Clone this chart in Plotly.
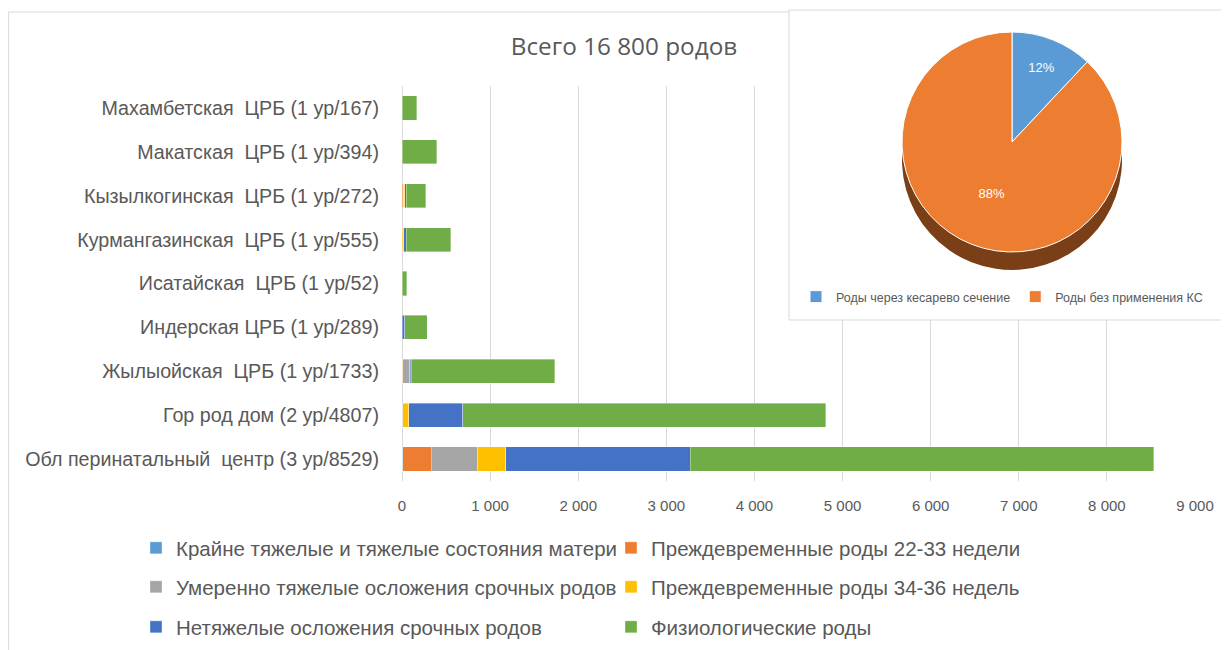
import plotly.graph_objects as go

# ---------------- data ----------------
categories = [
    "Махамбетская  ЦРБ (1 ур/167)",
    "Макатская  ЦРБ (1 ур/394)",
    "Кызылкогинская  ЦРБ (1 ур/272)",
    "Курмангазинская  ЦРБ (1 ур/555)",
    "Исатайская  ЦРБ (1 ур/52)",
    "Индерская ЦРБ (1 ур/289)",
    "Жылыойская  ЦРБ (1 ур/1733)",
    "Гор род дом (2 ур/4807)",
    "Обл перинатальный  центр (3 ур/8529)",
]
severe = [0, 0, 0, 0, 0, 0, 0, 0, 10]
preterm_22_33 = [0, 0, 12, 5, 0, 0, 10, 0, 320]
moderate = [0, 0, 10, 0, 0, 5, 75, 10, 530]
preterm_34_36 = [0, 0, 8, 15, 0, 0, 10, 65, 320]
mild = [0, 0, 20, 30, 0, 25, 10, 615, 2090]
physiological = [167, 394, 222, 505, 52, 259, 1628, 4117, 5259]

series_names = [
    "Крайне тяжелые и тяжелые состояния матери",
    "Преждевременные роды 22-33 недели",
    "Умеренно тяжелые осложения срочных родов",
    "Преждевременные роды 34-36 недель",
    "Нетяжелые осложения срочных родов",
    "Физиологические роды",
]
series_values = [severe, preterm_22_33, moderate, preterm_34_36, mild, physiological]
series_colors = ["#5B9BD5", "#ED7D31", "#A5A5A5", "#FFC000", "#4472C4", "#70AD47"]
series_legends = ["legend", "legend", "legend2", "legend2", "legend3", "legend3"]

pie_labels = ["Роды через кесарево сечение", "Роды без применения КС"]
pie_values = [12, 88]
pie_colors = ["#5B9BD5", "#ED7D31"]

title_text = "Всего 16 800 родов"
x_ticks = [0, 1000, 2000, 3000, 4000, 5000, 6000, 7000, 8000, 9000]
x_max = 9000

# ---------------- layout helpers (page has an 8px body margin) ----------------
OFF = 8
W, H = 1229 - OFF, 650 - OFF
GRAY = "#595959"
FONT = "Liberation Sans"


def px_x(p):
    return (p - OFF) / W


def px_y(p):
    return 1 - (p - OFF) / H


PLOT_L, PLOT_R, PLOT_T, PLOT_B = 402, 1195, 86, 481

fig = go.Figure()

for name, vals, col, lg in zip(series_names, series_values, series_colors, series_legends):
    fig.add_trace(go.Bar(
        y=categories, x=vals, name=name, orientation="h",
        marker=dict(color=col, line=dict(color="rgba(255,255,255,0.6)", width=0.6)),
        legend=lg,
    ))

pie_dom_x = [px_x(880), px_x(1144)]
# depth (side) of the pie
fig.add_trace(go.Pie(
    labels=pie_labels, values=pie_values, sort=False, direction="clockwise",
    marker=dict(colors=["#3f6f9a", "#7a3f16"]),
    textinfo="none", showlegend=False, hoverinfo="skip",
    domain=dict(x=pie_dom_x, y=[px_y(270), px_y(50)]),
))
fig.add_trace(go.Pie(
    labels=pie_labels, values=pie_values, sort=False, direction="clockwise",
    marker=dict(colors=pie_colors, line=dict(color="white", width=1)),
    textinfo="percent", textposition="inside",
    insidetextfont=dict(color="white", size=13, family=FONT),
    legend="legend4",
    domain=dict(x=pie_dom_x, y=[px_y(252), px_y(32)]),
))

# inset panel position expressed in axis units (covers gridlines under the pie)
n_cat = len(categories)
inset_x0 = (789 - PLOT_L) / (PLOT_R - PLOT_L) * x_max
cat_step = (PLOT_B - PLOT_T) / n_cat
inset_y1 = (320 - PLOT_T) / cat_step - 0.5

shapes = [
    dict(type="rect", xref="x", yref="y", layer="between",
         x0=inset_x0, x1=x_max * 1.1, y0=-2, y1=inset_y1,
         fillcolor="white", line=dict(width=0)),
    dict(type="rect", xref="paper", yref="paper", layer="above",
         x0=px_x(789), x1=1.02, y0=px_y(320), y1=px_y(10),
         fillcolor="rgba(0,0,0,0)", line=dict(color="#D9D9D9", width=1)),
    # outer chart border
    dict(type="line", xref="paper", yref="paper", x0=0.0005, x1=px_x(789),
         y0=px_y(12), y1=px_y(12), line=dict(color="#D9D9D9", width=1)),
    dict(type="line", xref="paper", yref="paper", x0=0.0005, x1=0.0005,
         y0=px_y(12), y1=-0.05, line=dict(color="#D9D9D9", width=1)),
]

legend_common = dict(
    orientation="h", xanchor="left", yanchor="middle",
    font=dict(family=FONT, size=20.5, color=GRAY),
    bgcolor="rgba(0,0,0,0)", itemwidth=30,
    entrywidth=430, entrywidthmode="pixels", traceorder="normal",
)

fig.update_layout(
    width=W, height=H,
    margin=dict(l=0, r=0, t=0, b=0),
    paper_bgcolor="white", plot_bgcolor="white",
    barmode="stack", bargap=0.45,
    separators=", ",
    title=dict(text=title_text, x=px_x(624), y=px_y(46), xanchor="center", yanchor="middle",
               font=dict(family="Open Sans", size=24.3, color=GRAY)),
    xaxis=dict(domain=[px_x(PLOT_L), px_x(PLOT_R)], range=[0, x_max], tickvals=x_ticks,
               tickformat=",d",
               showgrid=True, gridcolor="#D9D9D9", gridwidth=1, zeroline=True,
               zerolinecolor="#D9D9D9", zerolinewidth=1, showline=False,
               tickfont=dict(family=FONT, size=15, color=GRAY), ticklabelstandoff=14,
               automargin=False, fixedrange=True),
    yaxis=dict(domain=[px_y(PLOT_B), px_y(PLOT_T)], categoryorder="array",
               categoryarray=categories,
               range=[n_cat - 0.5, -0.5], autorange=False,
               showgrid=False, showline=False, zeroline=False,
               tickfont=dict(family=FONT, size=19.7, color=GRAY), ticklabelstandoff=22,
               automargin=False, fixedrange=True),
    shapes=shapes,
    legend=dict(x=px_x(136), y=px_y(548), **legend_common),
    legend2=dict(x=px_x(136), y=px_y(587), **legend_common),
    legend3=dict(x=px_x(136), y=px_y(627), **legend_common),
    legend4=dict(orientation="h", x=px_x(1002), y=px_y(297), xanchor="center", yanchor="middle",
                 font=dict(family=FONT, size=12.5, color=GRAY), bgcolor="rgba(0,0,0,0)",
                 itemwidth=30),
)

fig.write_html("out.html")
